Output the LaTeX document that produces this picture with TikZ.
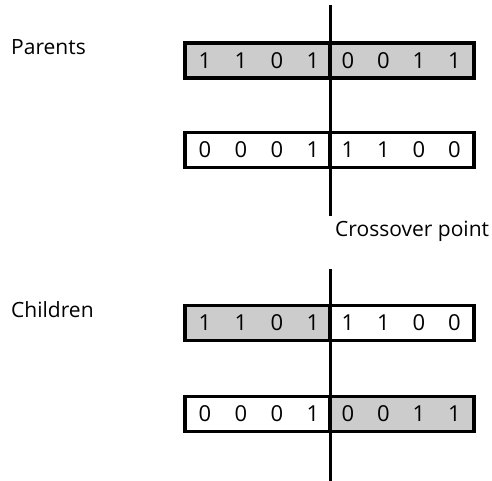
\documentclass[tikz,border=0pt]{standalone}
\usepackage{fontspec}
\setmainfont{Open Sans}
\definecolor{shade}{gray}{0.8}
\begin{document}
\begin{tikzpicture}[x=1pt,y=-1pt,
  half/.style={draw, line width=3.5pt, minimum height=35pt, inner sep=0pt, outer sep=0pt},
  lhalf/.style={half, minimum width=145pt},
  rhalf/.style={half, minimum width=144pt},
  bit/.style={inner sep=0pt, font=\fontsize{22}{26}\selectfont},
  lbl/.style={inner sep=0pt, anchor=base west, font=\fontsize{21}{25}\selectfont},
  cross/.style={line width=3pt}]
\useasboundingbox (0,0) rectangle (492,481);
% labels
\node[lbl] (parents) at (11,55) {Parents};
\node[lbl] (children) at (11,317) {Children};
\node[lbl] (crosslbl) at (335,236) {Crossover point};
% parent 1
\node[lhalf, fill=shade] (p1l) at (257.5,60.5) {};
\node[rhalf, fill=shade] (p1r) at (402,60.5) {};
% parent 2
\node[lhalf, fill=white] (p2l) at (257.5,150) {};
\node[rhalf, fill=white] (p2r) at (402,150) {};
% child 1
\node[lhalf, fill=shade] (c1l) at (257.5,323) {};
\node[rhalf, fill=white] (c1r) at (402,323) {};
% child 2
\node[lhalf, fill=white] (c2l) at (257.5,414) {};
\node[rhalf, fill=shade] (c2r) at (402,414) {};
% bits
\foreach \row/\y/\bits in {p1/60.5/{1,1,0,1,0,0,1,1}, p2/150/{0,0,0,1,1,1,0,0}, c1/323/{1,1,0,1,1,1,0,0}, c2/414/{0,0,0,1,0,0,1,1}} {
  \foreach \b [count=\i] in \bits {
    \pgfmathsetmacro{\xx}{\i<5 ? 205+36*(\i-1) : 348+35.5*(\i-5)}
    \node[bit] (\row b\i) at (\xx,\y) {\b};
  }
}
% crossover lines
\coordinate (t1) at (330,5);
\coordinate (t2) at (330,216);
\coordinate (b1) at (330,269);
\coordinate (b2) at (330,481);
\draw[cross] (t1) -- (t2);
\draw[cross] (b1) -- (b2);
\end{tikzpicture}
\end{document}
